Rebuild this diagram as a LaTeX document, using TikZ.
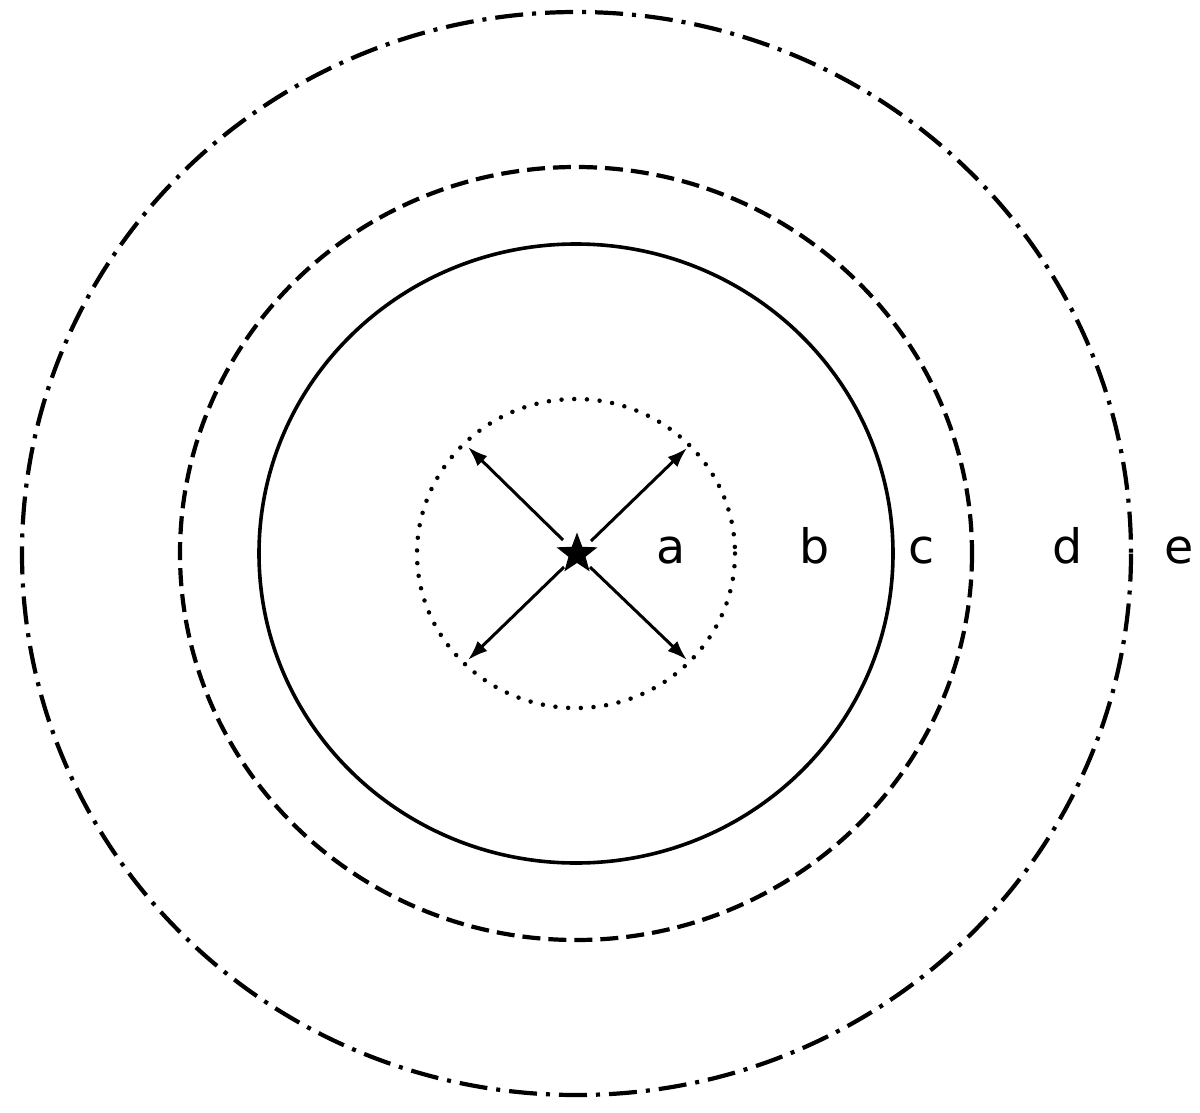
\documentclass[tikz,border=0pt]{standalone}
\usepackage{fontspec}
\setmainfont{DejaVu Sans}
\usetikzlibrary{arrows.meta,shapes.geometric}
\begin{document}
\begin{tikzpicture}[x=0.01cm,y=-0.01cm,
  ringdot/.style={line width=0.045cm,line cap=round,dash pattern=on 0pt off 0.127cm},
  ringsolid/.style={line width=0.036cm},
  ringdash/.style={line width=0.042cm,dash pattern=on 0.18cm off 0.08cm},
  ringdashdot/.style={line width=0.042cm,dash pattern=on 0.28cm off 0.09cm on 0.04cm off 0.09cm},
  lbl/.style={anchor=base,inner sep=0pt,font=\fontsize{13.5}{16}\selectfont},
  ray/.style={line width=0.03cm,-{Latex[length=0.2cm,width=0.14cm]}}]
\useasboundingbox (0,0) rectangle (1200,1112);
\fill[white] (0,0) rectangle (1200,1112);
\draw[ringdashdot] (576.5,553.5) ellipse [x radius=554.5, y radius=541.5];
\draw[ringdash] (576,553.5) ellipse [x radius=396, y radius=386.5];
\draw[ringsolid] (576,553.5) ellipse [x radius=317, y radius=309.5];
\draw[ringdot] (576,553.5) ellipse [x radius=159, y radius=154.5];
\node[star,star points=5,star point ratio=2.4,fill=black,minimum size=0.43cm,inner sep=0pt] (src) at (577,554) {};
\coordinate (s1) at (563,540);
\coordinate (t1) at (468,447);
\coordinate (s2) at (591,541);
\coordinate (t2) at (687,448);
\coordinate (s3) at (564,567);
\coordinate (t3) at (468,660);
\coordinate (s4) at (590,567);
\coordinate (t4) at (687,660);
\draw[ray] (s1) -- (t1);
\draw[ray] (s2) -- (t2);
\draw[ray] (s3) -- (t3);
\draw[ray] (s4) -- (t4);
\node[lbl] (la) at (671,563) {a};
\node[lbl] (lb) at (815,563) {b};
\node[lbl] (lc) at (922,563) {c};
\node[lbl] (ld) at (1068,563) {d};
\node[lbl] (le) at (1179,563) {e};
\end{tikzpicture}
\end{document}
